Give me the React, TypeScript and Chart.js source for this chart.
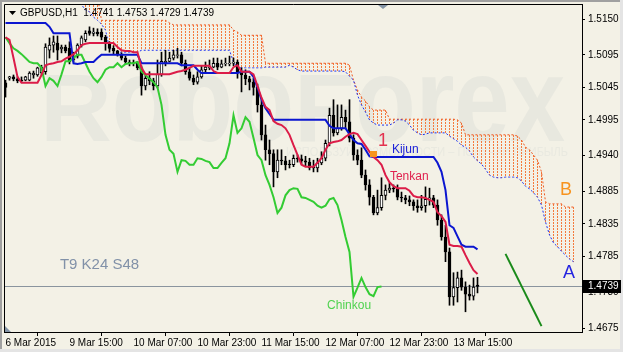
import React, { useEffect, useRef } from 'react';
import { Chart, registerables } from 'chart.js';
Chart.register(...registerables);

const symbolTitle = 'GBPUSD,H1  1.4741 1.4753 1.4729 1.4739';
const lastPrice = 1.4739;
const chinkouShift = 24;

const xTickBars = [0, 16, 32, 48, 64, 80, 96, 112];
const xTickLabels = ['6 Mar 2015', '9 Mar 15:00', '10 Mar 07:00', '10 Mar 23:00', '11 Mar 15:00', '12 Mar 07:00', '12 Mar 23:00', '13 Mar 15:00'];
const yTickValues = [1.5150, 1.5095, 1.5045, 1.4995, 1.4940, 1.4885, 1.4835, 1.4785, 1.4730, 1.4675];

const opens = [
  1.5052, 1.5059, 1.5061, 1.5058, 1.5056, 1.5056, 1.5056, 1.5064, 1.5064, 1.5067,
  1.5069, 1.5102, 1.5110, 1.5113, 1.5104, 1.5107, 1.5105, 1.5087, 1.5093, 1.5110,
  1.5118, 1.5132, 1.5128, 1.5130, 1.5130, 1.5122, 1.5113, 1.5105, 1.5101, 1.5096,
  1.5090, 1.5084, 1.5083, 1.5082, 1.5075, 1.5047, 1.5059, 1.5055, 1.5047, 1.5065,
  1.5083, 1.5085, 1.5090, 1.5094, 1.5095, 1.5082, 1.5069, 1.5059, 1.5053, 1.5061,
  1.5072, 1.5075, 1.5076, 1.5082, 1.5076, 1.5081, 1.5081, 1.5082, 1.5084, 1.5069,
  1.5064, 1.5058, 1.5053, 1.5045, 1.5018, 1.4972, 1.4949, 1.4943, 1.4915, 1.4933,
  1.4932, 1.4927, 1.4926, 1.4936, 1.4935, 1.4932, 1.4930, 1.4922, 1.4921, 1.4929,
  1.4936, 1.4959, 1.5002, 1.4975, 1.4982, 1.4999, 1.4992, 1.4967, 1.4941, 1.4933,
  1.4910, 1.4895, 1.4876, 1.4852, 1.4860, 1.4879, 1.4887, 1.4890, 1.4889, 1.4876,
  1.4875, 1.4872, 1.4869, 1.4863, 1.4860, 1.4863, 1.4873, 1.4875, 1.4864, 1.4841,
  1.4815, 1.4792, 1.4723, 1.4737, 1.4752, 1.4738, 1.4727, 1.4724, 1.4741,
];
const highs = [
  1.5056, 1.5062, 1.5064, 1.5061, 1.5061, 1.5062, 1.5069, 1.5070, 1.5076, 1.5079,
  1.5112, 1.5121, 1.5124, 1.5124, 1.5110, 1.5110, 1.5115, 1.5099, 1.5112, 1.5124,
  1.5132, 1.5138, 1.5136, 1.5135, 1.5135, 1.5125, 1.5115, 1.5109, 1.5102, 1.5098,
  1.5093, 1.5087, 1.5087, 1.5085, 1.5078, 1.5064, 1.5069, 1.5059, 1.5087, 1.5099,
  1.5102, 1.5099, 1.5102, 1.5105, 1.5099, 1.5087, 1.5075, 1.5064, 1.5069, 1.5078,
  1.5084, 1.5087, 1.5090, 1.5090, 1.5087, 1.5090, 1.5093, 1.5090, 1.5087, 1.5075,
  1.5072, 1.5062, 1.5059, 1.5050, 1.5026, 1.4987, 1.4964, 1.4949, 1.4949, 1.4949,
  1.4939, 1.4933, 1.4941, 1.4941, 1.4941, 1.4939, 1.4936, 1.4933, 1.4936, 1.4946,
  1.4964, 1.5013, 1.5026, 1.5018, 1.5018, 1.5010, 1.5026, 1.4972, 1.4949, 1.4952,
  1.4918, 1.4903, 1.4879, 1.4887, 1.4906, 1.4895, 1.4898, 1.4895, 1.4895, 1.4884,
  1.4879, 1.4878, 1.4872, 1.4872, 1.4879, 1.4892, 1.4890, 1.4879, 1.4872, 1.4849,
  1.4833, 1.4798, 1.4760, 1.4761, 1.4764, 1.4746, 1.4741, 1.4752, 1.4753,
];
const lows = [
  1.5030, 1.5056, 1.5055, 1.5052, 1.5053, 1.5055, 1.5055, 1.5059, 1.5062, 1.5065,
  1.5065, 1.5090, 1.5099, 1.5087, 1.5098, 1.5098, 1.5081, 1.5084, 1.5090, 1.5107,
  1.5115, 1.5125, 1.5124, 1.5124, 1.5118, 1.5102, 1.5099, 1.5096, 1.5093, 1.5087,
  1.5081, 1.5078, 1.5078, 1.5072, 1.5033, 1.5041, 1.5049, 1.5041, 1.5044, 1.5062,
  1.5078, 1.5084, 1.5087, 1.5090, 1.5078, 1.5065, 1.5056, 1.5049, 1.5050, 1.5059,
  1.5069, 1.5072, 1.5075, 1.5072, 1.5075, 1.5078, 1.5078, 1.5078, 1.5059, 1.5038,
  1.5049, 1.5041, 1.5033, 1.5007, 1.4964, 1.4933, 1.4926, 1.4892, 1.4906, 1.4926,
  1.4918, 1.4921, 1.4923, 1.4930, 1.4927, 1.4924, 1.4918, 1.4915, 1.4915, 1.4926,
  1.4932, 1.4955, 1.4970, 1.4972, 1.4979, 1.4982, 1.4961, 1.4933, 1.4926, 1.4906,
  1.4887, 1.4864, 1.4849, 1.4849, 1.4856, 1.4872, 1.4883, 1.4884, 1.4872, 1.4869,
  1.4866, 1.4863, 1.4856, 1.4853, 1.4856, 1.4853, 1.4864, 1.4860, 1.4833, 1.4810,
  1.4777, 1.4710, 1.4710, 1.4715, 1.4733, 1.4700, 1.4718, 1.4718, 1.4729,
];
const closes = [
  1.5045, 1.5061, 1.5058, 1.5055, 1.5055, 1.5061, 1.5067, 1.5067, 1.5075, 1.5076,
  1.5107, 1.5110, 1.5115, 1.5102, 1.5107, 1.5101, 1.5084, 1.5093, 1.5110, 1.5121,
  1.5128, 1.5128, 1.5130, 1.5127, 1.5122, 1.5113, 1.5105, 1.5101, 1.5096, 1.5090,
  1.5084, 1.5082, 1.5082, 1.5075, 1.5047, 1.5059, 1.5055, 1.5047, 1.5065, 1.5085,
  1.5085, 1.5090, 1.5095, 1.5095, 1.5082, 1.5069, 1.5059, 1.5053, 1.5061, 1.5072,
  1.5076, 1.5076, 1.5082, 1.5076, 1.5081, 1.5082, 1.5082, 1.5084, 1.5069, 1.5064,
  1.5058, 1.5053, 1.5045, 1.5018, 1.4972, 1.4949, 1.4943, 1.4915, 1.4933, 1.4932,
  1.4926, 1.4926, 1.4936, 1.4935, 1.4932, 1.4930, 1.4921, 1.4921, 1.4929, 1.4936,
  1.4959, 1.5002, 1.4975, 1.4982, 1.4999, 1.4992, 1.4967, 1.4941, 1.4933, 1.4910,
  1.4895, 1.4876, 1.4852, 1.4860, 1.4879, 1.4887, 1.4890, 1.4889, 1.4876, 1.4875,
  1.4872, 1.4869, 1.4863, 1.4860, 1.4863, 1.4873, 1.4875, 1.4864, 1.4841, 1.4815,
  1.4792, 1.4723, 1.4737, 1.4752, 1.4738, 1.4727, 1.4724, 1.4738, 1.4739,
];

const tenkan = [
  1.5122, 1.5118, 1.5090, 1.5061, 1.5052, 1.5052, 1.5052, 1.5052, 1.5052, 1.5064,
  1.5079, 1.5081, 1.5082, 1.5084, 1.5085, 1.5089, 1.5092, 1.5096, 1.5102, 1.5110,
  1.5112, 1.5113, 1.5113, 1.5113, 1.5113, 1.5113, 1.5113, 1.5113, 1.5107, 1.5102,
  1.5101, 1.5101, 1.5099, 1.5099, 1.5075, 1.5065, 1.5065, 1.5065, 1.5065, 1.5065,
  1.5065, 1.5065, 1.5067, 1.5069, 1.5070, 1.5072, 1.5075, 1.5078, 1.5078, 1.5078,
  1.5078, 1.5078, 1.5070, 1.5067, 1.5067, 1.5067, 1.5067, 1.5076, 1.5079, 1.5069,
  1.5069, 1.5069, 1.5065, 1.5047, 1.5029, 1.5015, 1.5010, 1.4993, 1.4989, 1.4987,
  1.4982, 1.4972, 1.4956, 1.4941, 1.4926, 1.4923, 1.4923, 1.4923, 1.4929, 1.4936,
  1.4949, 1.4959, 1.4961, 1.4962, 1.4964, 1.4969, 1.4973, 1.4975, 1.4973, 1.4964,
  1.4955, 1.4946, 1.4938, 1.4933, 1.4926, 1.4910, 1.4899, 1.4893, 1.4890, 1.4890,
  1.4890, 1.4886, 1.4878, 1.4876, 1.4876, 1.4875, 1.4872, 1.4869, 1.4853, 1.4847,
  1.4838, 1.4803, 1.4801, 1.4801, 1.4800, 1.4787, 1.4775, 1.4764, 1.4758,
];
const kijun = [
  1.5144, 1.5144, 1.5144, 1.5144, 1.5144, 1.5144, 1.5144, 1.5144, 1.5144, 1.5144,
  1.5144, 1.5138, 1.5128, 1.5128, 1.5128, 1.5128, 1.5128, 1.5082, 1.5081, 1.5082,
  1.5084, 1.5084, 1.5084, 1.5090, 1.5095, 1.5095, 1.5095, 1.5095, 1.5095, 1.5095,
  1.5095, 1.5095, 1.5095, 1.5095, 1.5082, 1.5082, 1.5082, 1.5082, 1.5082, 1.5082,
  1.5082, 1.5082, 1.5082, 1.5082, 1.5079, 1.5079, 1.5079, 1.5079, 1.5072, 1.5067,
  1.5067, 1.5067, 1.5067, 1.5067, 1.5067, 1.5067, 1.5067, 1.5067, 1.5067, 1.5069,
  1.5069, 1.5069, 1.5061, 1.5045, 1.5026, 1.5013, 1.5004, 1.4995, 1.4995, 1.4995,
  1.4995, 1.4995, 1.4995, 1.4995, 1.4995, 1.4995, 1.4995, 1.4995, 1.4995, 1.4995,
  1.4995, 1.4986, 1.4982, 1.4982, 1.4982, 1.4982, 1.4973, 1.4964, 1.4959, 1.4958,
  1.4949, 1.4939, 1.4938, 1.4938, 1.4938, 1.4938, 1.4938, 1.4938, 1.4938, 1.4938,
  1.4938, 1.4938, 1.4938, 1.4938, 1.4938, 1.4938, 1.4938, 1.4938, 1.4929, 1.4915,
  1.4887, 1.4833, 1.4829, 1.4816, 1.4803, 1.4800, 1.4800, 1.4800, 1.4796,
];
const senkouA = [
  1.5190, 1.5190, 1.5190, 1.5190, 1.5190, 1.5190, 1.5190, 1.5190, 1.5190, 1.5190,
  1.5190, 1.5190, 1.5190, 1.5190, 1.5190, 1.5190, 1.5190, 1.5190, 1.5179, 1.5172,
  1.5164, 1.5161, 1.5153, 1.5148, 1.5142, 1.5133, 1.5105, 1.5101, 1.5099, 1.5099,
  1.5099, 1.5099, 1.5099, 1.5099, 1.5102, 1.5102, 1.5102, 1.5102, 1.5102, 1.5102,
  1.5102, 1.5102, 1.5102, 1.5102, 1.5102, 1.5102, 1.5102, 1.5102, 1.5102, 1.5102,
  1.5102, 1.5102, 1.5102, 1.5102, 1.5102, 1.5102, 1.5102, 1.5084, 1.5075, 1.5075,
  1.5075, 1.5075, 1.5075, 1.5075, 1.5075, 1.5076, 1.5076, 1.5076, 1.5076, 1.5076,
  1.5076, 1.5079, 1.5076, 1.5072, 1.5070, 1.5070, 1.5070, 1.5070, 1.5070, 1.5070,
  1.5070, 1.5070, 1.5070, 1.5070, 1.5070, 1.5069, 1.5062, 1.5056, 1.5033, 1.5018,
  1.5007, 1.4995, 1.4990, 1.4987, 1.4987, 1.4987, 1.4987, 1.4990, 1.4995, 1.4995,
  1.4993, 1.4987, 1.4979, 1.4975, 1.4972, 1.4973, 1.4975, 1.4975, 1.4975, 1.4975,
  1.4975, 1.4970, 1.4966, 1.4962, 1.4956, 1.4953, 1.4947, 1.4938, 1.4932, 1.4927,
  1.4919, 1.4910, 1.4907, 1.4906, 1.4906, 1.4907, 1.4907, 1.4907, 1.4906, 1.4901,
  1.4893, 1.4889, 1.4883, 1.4876, 1.4864, 1.4838, 1.4818, 1.4806, 1.4800, 1.4793,
  1.4787, 1.4781, 1.4777,
];
const senkouB = [
  1.5185, 1.5185, 1.5185, 1.5185, 1.5185, 1.5185, 1.5185, 1.5185, 1.5185, 1.5185,
  1.5185, 1.5185, 1.5185, 1.5185, 1.5185, 1.5185, 1.5185, 1.5185, 1.5185, 1.5185,
  1.5185, 1.5185, 1.5185, 1.5185, 1.5148, 1.5148, 1.5148, 1.5148, 1.5148, 1.5148,
  1.5148, 1.5148, 1.5148, 1.5148, 1.5148, 1.5148, 1.5148, 1.5148, 1.5148, 1.5148,
  1.5148, 1.5144, 1.5141, 1.5141, 1.5141, 1.5141, 1.5141, 1.5141, 1.5141, 1.5141,
  1.5141, 1.5141, 1.5141, 1.5141, 1.5141, 1.5141, 1.5141, 1.5133, 1.5130, 1.5125,
  1.5125, 1.5125, 1.5125, 1.5125, 1.5125, 1.5082, 1.5082, 1.5082, 1.5082, 1.5082,
  1.5082, 1.5082, 1.5082, 1.5082, 1.5082, 1.5082, 1.5082, 1.5082, 1.5082, 1.5082,
  1.5082, 1.5082, 1.5082, 1.5082, 1.5082, 1.5082, 1.5079, 1.5056, 1.5041, 1.5030,
  1.5024, 1.5015, 1.5010, 1.5010, 1.5010, 1.5010, 1.4996, 1.4996, 1.4996, 1.4996,
  1.4996, 1.4996, 1.4996, 1.4996, 1.4996, 1.4996, 1.4996, 1.4996, 1.4996, 1.4996,
  1.4996, 1.4996, 1.4996, 1.4995, 1.4990, 1.4972, 1.4972, 1.4972, 1.4972, 1.4972,
  1.4972, 1.4972, 1.4972, 1.4972, 1.4972, 1.4972, 1.4972, 1.4972, 1.4970, 1.4964,
  1.4953, 1.4949, 1.4941, 1.4933, 1.4915, 1.4869, 1.4866, 1.4866, 1.4866, 1.4866,
  1.4861, 1.4861, 1.4861,
];

const trendBars = [125, 134];
const trendPrices = [1.4789, 1.4678];

const annotations = [
  { text: '1', bar: 93.1, price: 1.4962, color: '#E3324F', size: 18 },
  { text: 'Kijun', bar: 96.6, price: 1.4949, color: '#1E22D8', size: 12 },
  { text: 'Tenkan', bar: 96.1, price: 1.4907, color: '#E0214E', size: 12 },
  { text: 'Chinkou', bar: 80.4, price: 1.4710, color: '#4FD24F', size: 12 },
  { text: 'T9 K24 S48', bar: 13.6, price: 1.4772, color: '#8191A8', size: 15 },
  { text: 'B', bar: 138.6, price: 1.4887, color: '#F7931E', size: 18 },
  { text: 'A', bar: 139.4, price: 1.4760, color: '#2424E0', size: 18 },
];
const crossMarker = { bar: 92, price: 1.49425 };

const BG = '#F3F1E6';
const FONT = '"Liberation Sans", Arial, sans-serif';
const HATCH_BEAR = '#F47A3C';
const HATCH_BULL = '#B4A0E0';

export default function App() {
  const ref = useRef<HTMLCanvasElement>(null);
  useEffect(() => {
    document.body.style.margin = '0';
    const canvas = ref.current!;

    const decor = {
      id: 'decor',
      beforeDraw(chart: any) {
        const { ctx, chartArea: a } = chart;
        ctx.save();
        ctx.fillStyle = BG;
        ctx.fillRect(0, 0, chart.width, chart.height);
        ctx.fillStyle = '#A0A0A0';
        ctx.fillRect(0, 0, chart.width, 2);
        ctx.fillRect(0, 0, 2, chart.height);
        ctx.fillStyle = '#E4E4E4';
        ctx.fillRect(0, chart.height - 3, chart.width, 3);
        ctx.fillRect(chart.width - 3, 0, 3, chart.height);
        ctx.beginPath();
        ctx.rect(a.left, a.top, a.right - a.left, a.bottom - a.top);
        ctx.clip();
        ctx.fillStyle = '#E8E8DF';
        ctx.font = 'bold 96px ' + FONT;
        ctx.textBaseline = 'alphabetic';
        const parts = ['R', 'obo', 'F', 'orex'];
        const total = parts.reduce((s, p) => s + ctx.measureText(p).width, 0);
        const sx = 525 / total;
        let cx = 40;
        parts.forEach((p, k) => {
          const lower = k % 2 === 1;
          ctx.save();
          ctx.translate(cx, 141);
          ctx.scale(sx, lower ? 1.26 : 1);
          ctx.fillText(p, 0, 0);
          ctx.restore();
          cx += ctx.measureText(p).width * sx;
        });
        ctx.fillStyle = '#E9E9E0';
        ctx.font = '12px ' + FONT;
        ctx.textBaseline = 'middle';
        ctx.fillText('ИСПОЛЬЗУЙ ВОЗМОЖНОСТИ – ПОЛУЧАЙ ПРИБЫЛЬ', 286, 153, 282);
        ctx.restore();
      },
      beforeDatasetsDraw(chart: any) {
        const { ctx, chartArea: a, scales } = chart;
        const X = scales.x, Y = scales.y;
        ctx.save();
        ctx.beginPath();
        ctx.rect(a.left, a.top, a.right - a.left, a.bottom - a.top);
        ctx.clip();
        // Kumo: one dotted vertical line per bar between Senkou A and B
        senkouA.forEach((av, i) => {
          const bv = senkouB[i];
          const px = Math.floor(X.getPixelForValue(i));
          const y1 = Math.round(Y.getPixelForValue(Math.max(av, bv)));
          const y2 = Math.round(Y.getPixelForValue(Math.min(av, bv)));
          ctx.fillStyle = bv >= av ? HATCH_BEAR : HATCH_BULL;
          for (let yy = y1; yy < y2; yy += 3) {
            ctx.fillRect(px, yy, 1, Math.min(2, y2 - yy));
          }
        });
        ctx.restore();
        const py = Math.round(Y.getPixelForValue(lastPrice)) + 0.5;
        ctx.save();
        ctx.strokeStyle = '#8A949E';
        ctx.lineWidth = 1;
        ctx.beginPath();
        ctx.moveTo(a.left, py);
        ctx.lineTo(a.right, py);
        ctx.stroke();
        ctx.restore();
      },
      afterDraw(chart: any) {
        const { ctx, chartArea: a, scales } = chart;
        const X = scales.x, Y = scales.y;
        ctx.save();
        ctx.strokeStyle = '#000';
        ctx.lineWidth = 1;
        ctx.beginPath();
        ctx.moveTo(a.left + 0.5, a.bottom);
        ctx.lineTo(a.left + 0.5, a.top + 0.5);
        ctx.lineTo(a.right, a.top + 0.5);
        ctx.stroke();
        annotations.forEach((t) => {
          ctx.fillStyle = t.color;
          ctx.font = t.size + 'px ' + FONT;
          ctx.textBaseline = 'middle';
          ctx.textAlign = 'left';
          ctx.fillText(t.text, X.getPixelForValue(t.bar), Y.getPixelForValue(t.price));
        });
        ctx.fillStyle = '#F7941D';
        const mx = X.getPixelForValue(crossMarker.bar), my = Y.getPixelForValue(crossMarker.price);
        ctx.fillRect(Math.round(mx - 3.5), Math.round(my - 3), 7, 6);
        ctx.fillStyle = '#000';
        ctx.beginPath();
        ctx.moveTo(9, 11); ctx.lineTo(16, 11); ctx.lineTo(12.5, 15); ctx.closePath();
        ctx.fill();
        ctx.font = '10px ' + FONT;
        ctx.textBaseline = 'middle';
        ctx.fillText(symbolTitle, 20, 13);
        ctx.fillStyle = '#8494A6';
        ctx.beginPath();
        ctx.moveTo(378, 5); ctx.lineTo(388, 5); ctx.lineTo(383, 9); ctx.closePath();
        ctx.fill();
        ctx.beginPath();
        ctx.moveTo(a.left + 1, a.bottom - 6); ctx.lineTo(a.left + 1, a.bottom); ctx.lineTo(a.left + 7, a.bottom); ctx.closePath();
        ctx.fill();
        const py = Math.round(Y.getPixelForValue(lastPrice));
        ctx.fillStyle = '#000';
        ctx.fillRect(a.right + 1, py - 6, 38, 13);
        ctx.fillStyle = '#FFF';
        ctx.font = '10px ' + FONT;
        ctx.textBaseline = 'middle';
        ctx.fillText(lastPrice.toFixed(4), a.right + 6, py + 0.5);
        ctx.restore();
      },
    };

    const pts = (arr: number[]) => arr.map((v, i) => ({ x: i, y: v }));
    const chart = new Chart(canvas, {
      type: 'line',
      data: {
        datasets: [
          { type: 'line', label: 'Senkou A', data: pts(senkouA), borderColor: '#1E32F0', borderWidth: 1, borderDash: [2, 2], pointRadius: 0, tension: 0, fill: false, order: 7 } as any,
          { type: 'line', label: 'Senkou B', data: pts(senkouB), borderColor: '#F05A22', borderWidth: 1, borderDash: [2, 2], pointRadius: 0, tension: 0, fill: false, order: 8 } as any,
          { type: 'bar', label: 'Wick', data: highs.map((h, i) => ({ x: i, y: [lows[i], h] })), backgroundColor: '#000', barThickness: 1, grouped: false, order: 6 } as any,
          { type: 'bar', label: 'Body', data: opens.map((o, i) => ({ x: i, y: [o, closes[i]] })), backgroundColor: opens.map((o, i) => (closes[i] >= o ? '#FFFFFF' : '#000000')), borderColor: '#000', borderWidth: 1, borderSkipped: false, barThickness: 3, grouped: false, order: 5 } as any,
          { type: 'line', label: 'Chinkou', data: closes.slice(chinkouShift).map((c, j) => ({ x: j, y: c })), borderColor: '#33CC33', borderWidth: 2, pointRadius: 0, tension: 0, fill: false, order: 3 } as any,
          { type: 'line', label: 'Kijun', data: pts(kijun), borderColor: '#0B16D0', borderWidth: 2, pointRadius: 0, tension: 0, fill: false, order: 2 } as any,
          { type: 'line', label: 'Tenkan', data: pts(tenkan), borderColor: '#DC1C48', borderWidth: 2, pointRadius: 0, tension: 0, fill: false, order: 1 } as any,
          { type: 'line', label: 'Trend', data: trendBars.map((b, i) => ({ x: b, y: trendPrices[i] })), borderColor: '#198A19', borderWidth: 2, pointRadius: 0, tension: 0, fill: false, order: 0 } as any,
        ],
      },
      options: {
        animation: false,
        responsive: false,
        events: [],
        layout: { padding: { left: 4, top: 4, right: 0, bottom: 0 } },
        plugins: { legend: { display: false }, tooltip: { enabled: false } },
        scales: {
          x: {
            type: 'linear', position: 'bottom', min: -0.375, max: 144.125, offset: false,
            afterBuildTicks: (s: any) => { s.ticks = xTickBars.map((v) => ({ value: v })); },
            afterFit: (s: any) => { s.height = 20; s.paddingLeft = 0; s.paddingRight = 0; },
            grid: { drawOnChartArea: false, drawTicks: true, tickLength: 4, color: '#000' },
            border: { display: true, color: '#000', width: 1 },
            ticks: { autoSkip: false, maxRotation: 0, minRotation: 0, align: 'start', padding: 1, color: '#000', font: { family: FONT, size: 10 }, callback: (_v: any, i: number) => xTickLabels[i] },
          },
          y: {
            type: 'linear', position: 'right', min: 1.46689, max: 1.51731,
            afterBuildTicks: (s: any) => { s.ticks = yTickValues.map((v) => ({ value: v })); },
            afterFit: (s: any) => { s.width = 41; s.paddingTop = 0; s.paddingBottom = 0; },
            grid: { drawOnChartArea: false, drawTicks: true, tickLength: 3, color: '#000' },
            border: { display: true, color: '#000', width: 1 },
            ticks: { autoSkip: false, padding: 3, color: '#000', font: { family: FONT, size: 10 }, callback: (v: any) => Number(v).toFixed(4) },
          },
        },
      } as any,
      plugins: [decor],
    });
    return () => chart.destroy();
  }, []);

  return (
    <div style={{ position: 'absolute', left: 0, top: 0, width: 623, height: 352 }}>
      <canvas ref={ref} width={623} height={352} style={{ width: 623, height: 352, display: 'block' }} />
    </div>
  );
}
